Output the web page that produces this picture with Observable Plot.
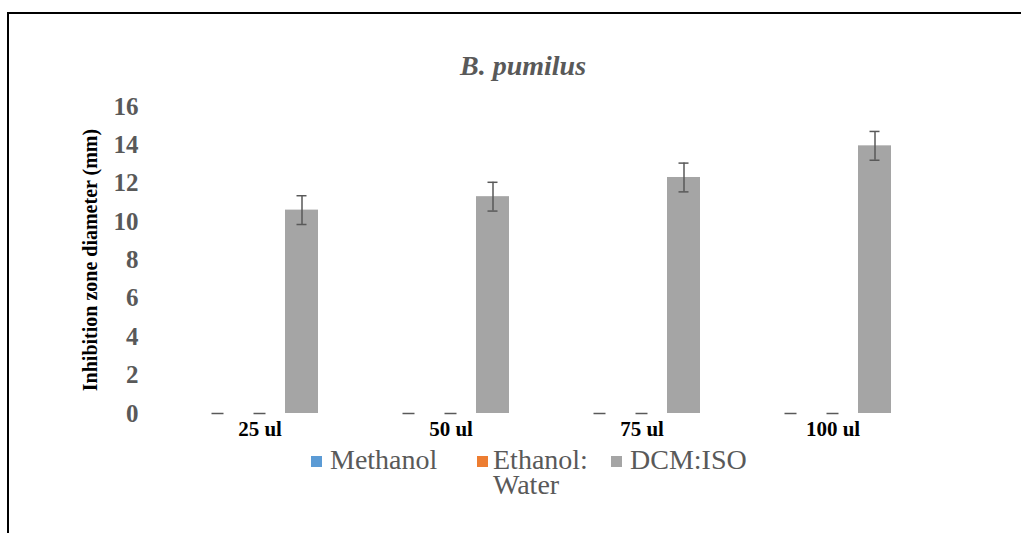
<!DOCTYPE html>
<html><head><meta charset="utf-8">
<script src="https://cdn.jsdelivr.net/npm/d3@7"></script>
<script src="https://cdn.jsdelivr.net/npm/@observablehq/plot@0.6"></script>
<style>
body{margin:0;background:#fff;width:1021px;height:533px;overflow:hidden;position:relative;font-family:"Liberation Serif","Times New Roman",Tinos,"DejaVu Serif",serif;}
#frame{position:absolute;left:7px;top:12px;width:1100px;height:600px;border-top:2.5px solid #000;border-left:2.5px solid #000;}
#title{position:absolute;left:0;width:1046px;top:50px;text-align:center;font-style:italic;font-weight:bold;font-size:28px;color:#595959;}
#chart{position:absolute;left:0;top:80px;}
#legend{position:absolute;left:311px;top:447px;display:flex;align-items:flex-start;font-size:28px;color:#595959;}
.item{display:flex;align-items:flex-start;line-height:25px;}
.sw{width:11px;height:11px;margin-top:9px;margin-right:8px;flex:none;}
</style></head>
<body>
<div id="frame"></div>
<div id="title">B. pumilus</div>
<div id="chart"></div>
<div id="legend"></div>
<script>
const groups = ["25 ul", "50 ul", "75 ul", "100 ul"];
const seriesNames = ["Methanol", "Ethanol: Water", "DCM:ISO"];
const seriesColors = ["#5b9bd5", "#ed7d31", "#a5a5a5"];
const methanol = [0, 0, 0, 0];
const ethanolWater = [0, 0, 0, 0];
const dcmIso = [10.6, 11.3, 12.3, 13.95];
const dcmIsoErr = [0.75, 0.75, 0.75, 0.75];
const yTicks = [0, 2, 4, 6, 8, 10, 12, 14, 16];
const yLabel = "Inhibition zone diameter (mm)";

const seriesValues = [methanol, ethanolWater, dcmIso];
const seriesErrs = [null, null, dcmIsoErr];
const rows = groups.flatMap((g, i) => seriesNames.map((s, j) => ({
  group: g, series: s, value: seriesValues[j][i], err: seriesErrs[j] ? seriesErrs[j][i] : 0
})));

const plot = Plot.plot({
  width: 1021,
  height: 370,
  marginTop: 26,
  marginBottom: 37,
  marginLeft: 163,
  marginRight: 91.5,
  style: {fontFamily: "'Liberation Serif', 'Times New Roman', Tinos, 'DejaVu Serif', serif", background: "transparent"},
  fx: {domain: groups, padding: 0},
  x: {domain: seriesNames, paddingInner: 0.22, paddingOuter: 0.87, axis: null},
  y: {domain: [0, 16]},
  color: {domain: seriesNames, range: seriesColors},
  marks: [
    Plot.axisY({ticks: yTicks, tickSize: 0, tickPadding: 26, fontSize: 25, fontWeight: "bold", fill: "#595959", label: null}),
    Plot.axisY({ticks: [], tickSize: 0, label: yLabel, labelAnchor: "center", labelArrow: "none", labelOffset: 82, fontSize: 20, fontWeight: "bold", fill: "#000"}),
    Plot.axisFx({anchor: "bottom", tickSize: 0, tickPadding: 8, fontSize: 21, fontWeight: "bold", fill: "#000", label: null}),
    Plot.barY(rows.filter(d => d.value > 0), {fx: "group", x: "series", y: "value", fill: "series"}),
    Plot.tickY(rows.filter(d => d.value === 0), {fx: "group", x: "series", y: "value", stroke: "#595959", strokeWidth: 1.5, insetLeft: 10.5, insetRight: 10.5}),
    Plot.ruleX(rows.filter(d => d.err > 0), {fx: "group", x: "series", y1: d => d.value - d.err, y2: d => d.value + d.err, stroke: "#595959", strokeWidth: 1.5}),
    Plot.tickY(rows.filter(d => d.err > 0), {fx: "group", x: "series", y: d => d.value - d.err, stroke: "#595959", strokeWidth: 1.5, insetLeft: 11.5, insetRight: 11.5}),
    Plot.tickY(rows.filter(d => d.err > 0), {fx: "group", x: "series", y: d => d.value + d.err, stroke: "#595959", strokeWidth: 1.5, insetLeft: 11.5, insetRight: 11.5})
  ]
});
document.getElementById("chart").appendChild(plot);

const legend = document.getElementById("legend");
const itemWidths = ["166px", "134px", "auto"];
seriesNames.forEach((s, i) => {
  const item = document.createElement("div");
  item.className = "item";
  item.style.width = itemWidths[i];
  const sw = document.createElement("div");
  sw.className = "sw";
  sw.style.background = seriesColors[i];
  const t = document.createElement("div");
  t.textContent = s;
  if (s.includes(" ")) { t.style.width = "100px"; t.style.marginLeft = "-3px"; }
  item.appendChild(sw);
  item.appendChild(t);
  legend.appendChild(item);
});
</script>
</body></html>
